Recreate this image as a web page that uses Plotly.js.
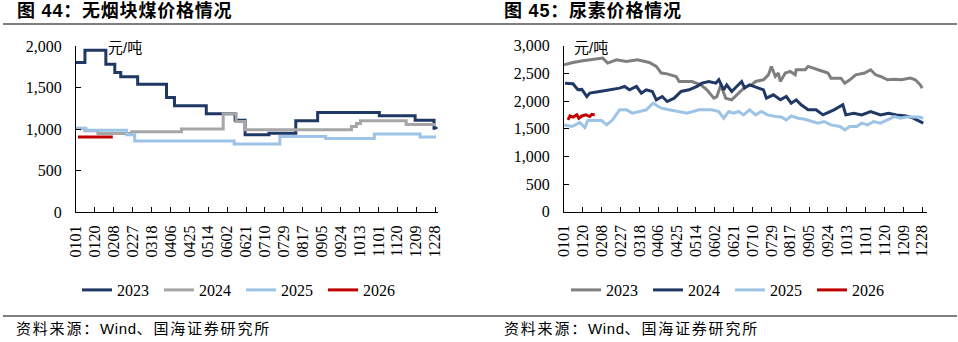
<!DOCTYPE html>
<html>
<head>
<meta charset="utf-8">
<script src="https://cdn.plot.ly/plotly-3.0.1.min.js"></script>
<style>html,body{margin:0;padding:0;background:#fff;}#chart{width:958px;height:342px;}</style>
</head>
<body>
<div id="chart"></div>
<script>
// ---- tick labels (day-of-year index -> MMDD) ----
const tickDays = [0,19,38,57,76,95,114,133,152,171,190,209,228,247,266,285,304,323,342,361];
const tickLabels = ["0101","0120","0208","0227","0318","0406","0425","0514","0602","0621","0710","0729","0817","0905","0924","1013","1101","1120","1209","1228"];
const years = ["2023","2024","2025","2026"];

// ---- 无烟块煤 (step series: day index where price changes, value) ----
const coal2023Day = [0,9,30,39,45,62,91,99,131,160,170,194,221,243,305,341,360,362];
const coal2023Val = [1800,1950,1780,1680,1630,1540,1380,1280,1185,1105,930,950,1100,1200,1160,1105,1010,1000];
const coal2024Day = [0,9,22,56,106,148,161,170,272,277,282,286,332,362];
const coal2024Val = [1010,980,945,968,1000,1185,1090,990,990,1030,1065,1100,1055,1055];
const coal2025Day = [0,10,51,59,159,205,251,300,346,362];
const coal2025Val = [1005,985,930,855,820,910,885,940,905,905];
const coal2026Day = [2,37];
const coal2026Val = [905,905];

// ---- 尿素 ----
const urea2023Day = [0,9,19,33,39,44,53,63,74,86,93,98,103,113,116,129,138,144,151,154,158,163,169,176,183,189,193,201,206,209,213,216,218,223,228,233,234,243,246,256,266,269,279,283,288,294,303,309,314,319,326,333,340,349,354,359,361];
const urea2023Val = [2655,2697,2728,2764,2776,2686,2746,2715,2746,2697,2625,2505,2495,2444,2353,2353,2293,2203,2053,2080,2290,2052,2022,2143,2263,2293,2353,2384,2474,2625,2444,2505,2353,2505,2535,2474,2565,2565,2625,2565,2505,2414,2414,2323,2384,2474,2505,2565,2474,2444,2384,2394,2384,2414,2384,2293,2233];
const urea2024Day = [1,9,14,18,23,26,36,46,56,61,66,73,78,83,89,93,99,104,111,118,126,134,139,146,153,156,161,164,169,179,182,187,196,201,204,211,218,224,229,234,239,246,254,261,272,281,284,292,300,309,319,327,335,345,352,362];
const urea2024Val = [2323,2313,2203,2210,2082,2143,2173,2203,2233,2263,2203,2263,2143,2203,2173,2022,2082,1992,2052,2173,2203,2263,2323,2353,2323,2384,2203,2293,2173,2353,2233,2293,2233,2203,2052,2112,2022,2082,1962,2022,1932,1841,1841,1750,1841,1932,1750,1780,1750,1811,1750,1780,1750,1732,1690,1600];
const urea2025Day = [0,8,16,21,24,38,43,49,56,63,69,76,83,88,90,95,98,106,116,124,136,149,156,161,166,171,176,181,187,193,199,205,213,219,224,229,236,243,250,256,262,269,278,283,288,295,300,306,312,319,326,333,339,345,352,358,362];
const urea2025Val = [1569,1539,1611,1520,1648,1648,1569,1660,1841,1841,1780,1811,1841,1932,1962,1901,1871,1841,1811,1780,1841,1841,1811,1690,1811,1780,1811,1750,1841,1750,1811,1750,1720,1710,1660,1730,1690,1670,1630,1600,1630,1569,1539,1479,1539,1539,1600,1569,1630,1600,1660,1720,1690,1710,1710,1710,1690];
const urea2026Day = [4,6,9,13,15,18,22,26,28,31];
const urea2026Val = [1660,1732,1710,1750,1690,1730,1750,1720,1760,1750];

const NAVY = "#203864", LGRAY = "#A6A6A6", DGRAY = "#7F7F7F", LBLUE = "#9DC3E6", RED = "#C00000";

function tr(x, y, name, color, shape, xa, ya, leg) {
  return {x: x, y: y, name: name, type: "scatter", mode: "lines",
    line: {color: color, width: 3, shape: shape},
    xaxis: xa, yaxis: ya, legend: leg, hoverinfo: "skip"};
}

const data = [
  tr(coal2023Day, coal2023Val, years[0], NAVY, "hv", "x", "y", "legend"),
  tr(coal2024Day, coal2024Val, years[1], LGRAY, "hv", "x", "y", "legend"),
  tr(coal2025Day, coal2025Val, years[2], LBLUE, "hv", "x", "y", "legend"),
  tr(coal2026Day, coal2026Val, years[3], RED, "hv", "x", "y", "legend"),
  tr(urea2023Day, urea2023Val, years[0], DGRAY, "linear", "x2", "y2", "legend2"),
  tr(urea2024Day, urea2024Val, years[1], NAVY, "linear", "x2", "y2", "legend2"),
  tr(urea2025Day, urea2025Val, years[2], LBLUE, "linear", "x2", "y2", "legend2"),
  tr(urea2026Day, urea2026Val, years[3], RED, "linear", "x2", "y2", "legend2")
];

const W = 958, H = 342;
const px = v => v / W, py = v => (H - v) / H;
const serif = "'Liberation Serif', 'Times New Roman', serif";
const cjk = "'Liberation Sans', 'Noto Sans CJK SC', sans-serif";

function xax(d0, d1, rmax) {
  return {domain: [px(d0), px(d1)], range: [0, rmax], tickmode: "array", tickvals: tickDays, ticktext: tickLabels,
    tickangle: -90, ticks: "inside", ticklen: 5, tickcolor: "#000", tickwidth: 1,
    showline: true, linecolor: "#000", linewidth: 1, showgrid: false, zeroline: false, automargin: false,
    tickfont: {family: serif, size: 16, color: "#000"}, ticklabelstandoff: 6, fixedrange: true};
}
function yax(top, bot, rmax, anchor) {
  return {domain: [py(bot), py(top)], range: [0, rmax], dtick: 500, tickformat: ",", anchor: anchor,
    ticks: "inside", ticklen: 5, tickcolor: "#000", tickwidth: 1, automargin: false,
    showline: true, linecolor: "#000", linewidth: 1, showgrid: false, zeroline: false,
    tickfont: {family: serif, size: 16, color: "#000"}, ticklabelstandoff: 10, fixedrange: true};
}

const legBase = {orientation: "h", yanchor: "middle", xanchor: "left", font: {family: serif, size: 16, color: "#000"},
  bgcolor: "rgba(0,0,0,0)", borderwidth: 0, entrywidth: 37, entrywidthmode: "pixels", itemclick: false, itemdoubleclick: false};

const srcText = "<span style='letter-spacing:1.8px'>资料来源：</span><span style='letter-spacing:0.6px'>Wind</span><span style='letter-spacing:1.8px'>、国海证券研究所</span>";

const layout = {
  width: W, height: H, margin: {l: 0, r: 0, t: 0, b: 0, autoexpand: false},
  paper_bgcolor: "#fff", plot_bgcolor: "#fff", showlegend: true,
  xaxis: Object.assign(xax(76, 438, 364), {anchor: "y"}),
  yaxis: yax(46, 212, 2000, "x"),
  xaxis2: Object.assign(xax(564, 926.7, 365.5), {anchor: "y2"}),
  yaxis2: yax(45.7, 211.7, 3000, "x2"),
  legend: Object.assign({}, legBase, {x: px(77), y: py(290)}),
  legend2: Object.assign({}, legBase, {x: px(566), y: py(290)}),
  shapes: [
    {type: "line", xref: "paper", yref: "paper", x0: px(3), x1: px(480), y0: py(24), y1: py(24), line: {color: "#000", width: 1.2}},
    {type: "line", xref: "paper", yref: "paper", x0: px(480), x1: px(957), y0: py(24), y1: py(24), line: {color: "#000", width: 1.2}},
    {type: "line", xref: "paper", yref: "paper", x0: px(3), x1: px(480), y0: py(316), y1: py(316), line: {color: "#000", width: 1.2}},
    {type: "line", xref: "paper", yref: "paper", x0: px(480), x1: px(957), y0: py(316), y1: py(316), line: {color: "#000", width: 1.2}}
  ],
  annotations: [
    {xref: "paper", yref: "paper", x: px(15), y: py(11), xanchor: "left", yanchor: "middle", showarrow: false,
      text: "<span style='letter-spacing:0.8px'><b>图 44：无烟块煤价格情况</b></span>", font: {family: cjk, size: 18, color: "#000"}},
    {xref: "paper", yref: "paper", x: px(502), y: py(11), xanchor: "left", yanchor: "middle", showarrow: false,
      text: "<span style='letter-spacing:0.8px'><b>图 45：尿素价格情况</b></span>", font: {family: cjk, size: 18, color: "#000"}},
    {xref: "paper", yref: "paper", x: px(106), y: py(47), xanchor: "left", yanchor: "middle", showarrow: false,
      text: "元/吨", font: {family: cjk, size: 15, color: "#000"}},
    {xref: "paper", yref: "paper", x: px(572), y: py(47), xanchor: "left", yanchor: "middle", showarrow: false,
      text: "元/吨", font: {family: cjk, size: 15, color: "#000"}},
    {xref: "paper", yref: "paper", x: px(14), y: py(328), xanchor: "left", yanchor: "middle", showarrow: false,
      text: srcText, font: {family: cjk, size: 15, color: "#000"}},
    {xref: "paper", yref: "paper", x: px(502), y: py(328), xanchor: "left", yanchor: "middle", showarrow: false,
      text: srcText, font: {family: cjk, size: 15, color: "#000"}}
  ]
};

Plotly.newPlot("chart", data, layout, {staticPlot: true, displayModeBar: false});
</script>
</body>
</html>
